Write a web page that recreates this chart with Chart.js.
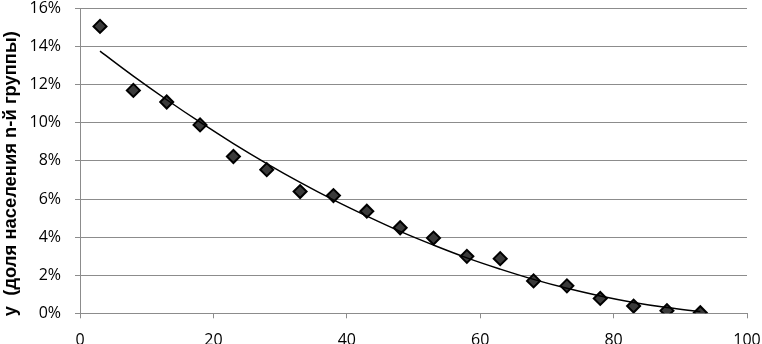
<!DOCTYPE html>
<html>
<head>
<meta charset="utf-8">
<script src="https://cdn.jsdelivr.net/npm/chart.js@4/dist/chart.umd.min.js"></script>
<style>
  html, body { margin: 0; padding: 0; background: #fff; }
  #wrap { width: 762px; height: 344px; }
</style>
</head>
<body>
<div id="wrap"><canvas id="c" width="762" height="344"></canvas></div>
<script>
// Group midpoints (n) and population share (%)
const groupX = [3, 8, 13, 18, 23, 28, 33, 38, 43, 48, 53, 58, 63, 68, 73, 78, 83, 88, 93];
const shareY = [15.06, 11.70, 11.09, 9.89, 8.23, 7.54, 6.39, 6.18, 5.36, 4.49, 3.95, 2.99, 2.87, 1.70, 1.44, 0.78, 0.38, 0.14, 0.03];
// Trend line (polynomial) values
const trendX = [3, 8, 13, 18, 23, 28, 33, 38, 43, 48, 53, 58, 63, 68, 73, 78, 83, 88, 93];
const trendY = [13.76, 12.45, 11.21, 10.03, 8.91, 7.86, 6.87, 5.95, 5.10, 4.30, 3.58, 2.91, 2.32, 1.78, 1.31, 0.91, 0.57, 0.30, 0.09];
// Axis ticks
const xTicks = [0, 20, 40, 60, 80, 100];
const yTicks = [0, 2, 4, 6, 8, 10, 12, 14, 16];
const yTitle = 'y  (доля населения n-й группы)';

const pts = groupX.map((x, i) => ({ x: x, y: shareY[i] }));
const trend = trendX.map((x, i) => ({ x: x, y: trendY[i] }));

const gridCol = '#8c8c8c';
const tickFont = { family: '"Open Sans", "Liberation Sans", sans-serif', size: 16, lineHeight: 1 };

new Chart(document.getElementById('c'), {
  type: 'scatter',
  data: {
    datasets: [
      {
        label: 'trend',
        type: 'line',
        data: trend,
        borderColor: '#000',
        borderWidth: 1.5,
        pointRadius: 0,
        tension: 0.4,
        fill: false,
        order: 0
      },
      {
        label: 'share',
        data: pts,
        pointStyle: 'rectRot',
        pointRadius: 6.5,
        pointBackgroundColor: '#3a3a3a',
        pointBorderColor: '#000',
        pointBorderWidth: 2,
        order: 1
      }
    ]
  },
  options: {
    responsive: false,
    animation: false,
    events: [],
    layout: { padding: { left: 0, right: 15, top: 7, bottom: 0 } },
    plugins: { legend: { display: false }, tooltip: { enabled: false } },
    scales: {
      x: {
        type: 'linear',
        min: xTicks[0],
        max: xTicks[xTicks.length - 1],
        afterBuildTicks: (s) => { s.ticks = xTicks.map(v => ({ value: v })); },
        afterFit: (s) => { s.height = 30.7; s.paddingLeft = 0; s.paddingRight = 0; },
        border: { color: gridCol, width: 1 },
        grid: { drawOnChartArea: false, drawTicks: true, tickLength: 5, color: gridCol },
        ticks: { color: '#000', font: tickFont, padding: 14, maxRotation: 0 }
      },
      y: {
        type: 'linear',
        min: yTicks[0],
        max: yTicks[yTicks.length - 1],
        afterBuildTicks: (s) => { s.ticks = yTicks.map(v => ({ value: v })); },
        afterFit: (s) => { s.width = 80; s.paddingTop = 0; s.paddingBottom = 0; },
        border: { color: gridCol, width: 1 },
        grid: { color: gridCol, lineWidth: 1, drawTicks: true, tickLength: 5 },
        ticks: { color: '#000', font: tickFont, padding: 14, callback: (v) => v + '%' },
        title: {
          display: true,
          text: yTitle + '     ',
          color: '#000',
          font: { family: '"Liberation Sans", Arial, sans-serif', size: 18.4, weight: 'bold' },
          padding: { top: 0, bottom: 0 }
        }
      }
    }
  }
});
</script>
</body>
</html>
